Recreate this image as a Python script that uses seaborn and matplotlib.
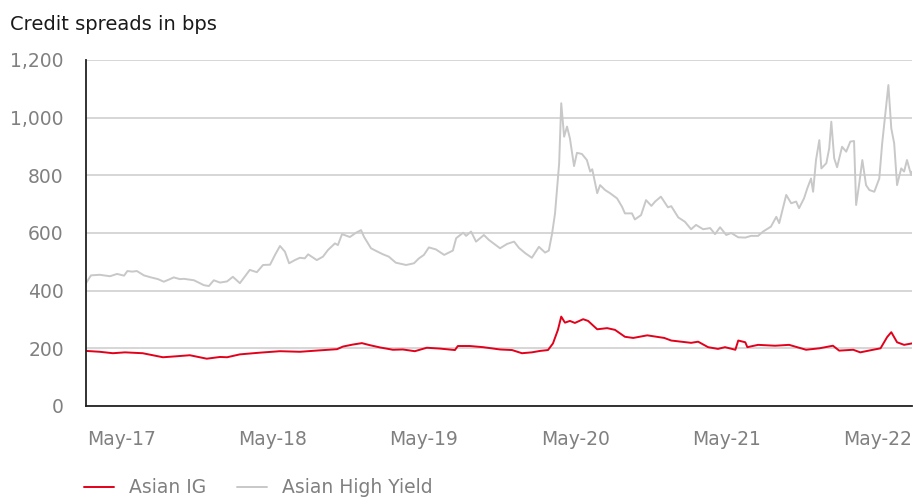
import numpy as np
import pandas as pd
import matplotlib
matplotlib.use('Agg')
import matplotlib.pyplot as plt
import matplotlib.dates as mdates
import seaborn as sns

# Asian High Yield spread (bps)
hy_dates = ['2017-02-03', '2017-02-15', '2017-03-08', '2017-04-02', '2017-04-19', '2017-05-06',
            '2017-05-14', '2017-05-26', '2017-06-06', '2017-06-23', '2017-07-10', '2017-07-27',
            '2017-08-10', '2017-08-25', '2017-09-03', '2017-09-18', '2017-09-28', '2017-10-22',
            '2017-11-15', '2017-11-27', '2017-12-09', '2017-12-24', '2018-01-10', '2018-01-24',
            '2018-02-10', '2018-03-06', '2018-03-23', '2018-04-07', '2018-04-24', '2018-05-06',
            '2018-05-18', '2018-05-30', '2018-06-09', '2018-06-23', '2018-07-05', '2018-07-17',
            '2018-07-25', '2018-08-15', '2018-08-30', '2018-09-11', '2018-09-28', '2018-10-05',
            '2018-10-15', '2018-11-03', '2018-11-18', '2018-11-30', '2018-12-07', '2018-12-24',
            '2019-01-05', '2019-01-22', '2019-02-05', '2019-02-22', '2019-03-19', '2019-04-07',
            '2019-04-19', '2019-05-01', '2019-05-13', '2019-05-30', '2019-06-19', '2019-07-10',
            '2019-07-18', '2019-08-04', '2019-08-11', '2019-08-23', '2019-09-04', '2019-09-23',
            '2019-10-05', '2019-10-22', '2019-11-01', '2019-11-18', '2019-12-05', '2019-12-17',
            '2020-01-01', '2020-01-17', '2020-02-03', '2020-02-18', '2020-02-27', '2020-03-06',
            '2020-03-13', '2020-03-23', '2020-03-28', '2020-04-04', '2020-04-11', '2020-04-18',
            '2020-04-28', '2020-05-05', '2020-05-17', '2020-05-29', '2020-06-06', '2020-06-11',
            '2020-06-23', '2020-06-30', '2020-07-12', '2020-07-24', '2020-08-10', '2020-08-22',
            '2020-08-29', '2020-09-15', '2020-09-22', '2020-10-07', '2020-10-19', '2020-11-01',
            '2020-11-10', '2020-11-24', '2020-12-11', '2020-12-19', '2021-01-05', '2021-01-21',
            '2021-02-05', '2021-02-17', '2021-03-06', '2021-03-23', '2021-04-04', '2021-04-16',
            '2021-05-01', '2021-05-13', '2021-05-30', '2021-06-16', '2021-06-30', '2021-07-17',
            '2021-07-29', '2021-08-10', '2021-08-17', '2021-08-30', '2021-09-06', '2021-09-23',
            '2021-10-05', '2021-10-17', '2021-10-24', '2021-11-05', '2021-11-13', '2021-11-22',
            '2021-11-27', '2021-12-04', '2021-12-12', '2021-12-17', '2021-12-29', '2022-01-05',
            '2022-01-10', '2022-01-17', '2022-01-24', '2022-02-05', '2022-02-15', '2022-02-25',
            '2022-03-06', '2022-03-11', '2022-03-18', '2022-03-26', '2022-04-04', '2022-04-12',
            '2022-04-24', '2022-05-06', '2022-05-13', '2022-05-23', '2022-05-28', '2022-06-04',
            '2022-06-11', '2022-06-18', '2022-06-28', '2022-07-05', '2022-07-12', '2022-07-22',
            '2022-07-24']
hy_values = [426, 453, 455, 450, 458, 452,
             468, 466, 468, 453, 446, 440,
             431, 440, 446, 440, 441, 436,
             419, 416, 436, 428, 432, 448,
             426, 472, 464, 489, 490, 524,
             555, 535, 495, 506, 514, 512,
             526, 506, 518, 541, 564, 558,
             596, 586, 601, 610, 587, 547,
             538, 526, 518, 497, 489, 495,
             512, 524, 550, 543, 524, 539,
             582, 601, 590, 605, 570, 593,
             576, 558, 547, 562, 570, 548,
             530, 514, 552, 532, 539, 599,
             668, 842, 1050, 934, 969, 928,
             832, 878, 874, 853, 813, 821,
             738, 766, 749, 738, 720, 691,
             668, 668, 647, 662, 714, 694,
             709, 726, 689, 693, 654, 639,
             613, 628, 613, 617, 596, 620,
             593, 600, 585, 584, 590, 590,
             605, 616, 622, 656, 634, 732,
             703, 709, 686, 720, 755, 789,
             743, 853, 922, 824, 842, 894,
             986, 859, 828, 899, 882, 917,
             919, 697, 766, 853, 766, 749,
             743, 789, 911, 1044, 1113, 963,
             911, 766, 824, 813, 853, 801,
             813]

# Asian IG spread (bps)
ig_dates = ['2017-02-03', '2017-03-08', '2017-04-09', '2017-05-08', '2017-06-20', '2017-08-08',
            '2017-09-06', '2017-10-12', '2017-11-22', '2017-12-24', '2018-01-10', '2018-02-10',
            '2018-03-31', '2018-05-18', '2018-07-05', '2018-08-23', '2018-10-03', '2018-10-17',
            '2018-11-10', '2018-12-02', '2018-12-21', '2019-01-15', '2019-02-15', '2019-03-11',
            '2019-04-09', '2019-05-08', '2019-06-09', '2019-07-15', '2019-07-22', '2019-08-20',
            '2019-09-21', '2019-11-01', '2019-11-30', '2019-12-24', '2020-01-17', '2020-02-06',
            '2020-02-25', '2020-03-08', '2020-03-20', '2020-03-28', '2020-04-06', '2020-04-18',
            '2020-04-30', '2020-05-20', '2020-06-01', '2020-06-23', '2020-07-17', '2020-08-05',
            '2020-08-29', '2020-09-18', '2020-10-22', '2020-12-02', '2020-12-19', '2021-02-05',
            '2021-02-22', '2021-03-18', '2021-04-11', '2021-04-28', '2021-05-23', '2021-05-30',
            '2021-06-16', '2021-06-21', '2021-07-17', '2021-08-27', '2021-09-30', '2021-11-10',
            '2021-12-12', '2022-01-14', '2022-01-29', '2022-03-04', '2022-03-21', '2022-04-21',
            '2022-05-09', '2022-05-25', '2022-06-04', '2022-06-18', '2022-07-05', '2022-07-24']
ig_values = [191, 188, 183, 186, 183, 169,
             172, 176, 164, 170, 169, 179,
             185, 190, 188, 193, 197, 206,
             213, 218, 211, 203, 195, 196,
             190, 202, 199, 194, 208, 208,
             204, 196, 194, 183, 186, 191,
             194, 217, 264, 310, 289, 295,
             288, 301, 295, 266, 270, 264,
             240, 236, 245, 236, 227, 219,
             223, 204, 198, 204, 195, 227,
             221, 204, 212, 209, 212, 195,
             200, 209, 192, 195, 186, 195,
             200, 239, 256, 221, 212, 217]

series_names = ['Asian IG', 'Asian High Yield']
series_colors = ['#e3001b', '#c8c8c8']
year_ticks = ['2017-05-01', '2018-05-01', '2019-05-01', '2020-05-01', '2021-05-01', '2022-05-01']

df = pd.concat([
    pd.DataFrame({'date': pd.to_datetime(ig_dates), 'bps': ig_values, 'series': series_names[0]}),
    pd.DataFrame({'date': pd.to_datetime(hy_dates), 'bps': hy_values, 'series': series_names[1]}),
], ignore_index=True)

sns.set_style('white')
plt.rcParams['font.family'] = ['DejaVu Sans']

fig = plt.figure(figsize=(9.17, 4.99), dpi=100)
ax = fig.add_axes([0.0938, 0.1864, 0.9007, 0.6934])

sns.lineplot(data=df, x='date', y='bps', hue='series', hue_order=series_names,
             palette=series_colors, linewidth=1.4, estimator=None, legend=False, ax=ax)

ax.set_ylim(0, 1200)
ax.set_yticks(range(0, 1201, 200))
ax.yaxis.set_major_formatter(matplotlib.ticker.FuncFormatter(lambda v, p: f'{int(v):,}'))
ax.set_xlim(pd.Timestamp(hy_dates[0]), pd.Timestamp(hy_dates[-1]))
ax.set_xticks(pd.to_datetime(year_ticks))
ax.xaxis.set_major_formatter(mdates.DateFormatter('%b-%y'))

ax.grid(axis='y', color='#cccccc', linewidth=1.1)
ax.grid(axis='x', visible=False)
ax.set_axisbelow(True)
for s in ['top', 'right']:
    ax.spines[s].set_visible(False)
for s in ['left', 'bottom']:
    ax.spines[s].set_color('#222222')
    ax.spines[s].set_linewidth(1.3)

ax.tick_params(axis='y', length=10, width=1.3, color='#222222', pad=6,
               labelsize=13.5, labelcolor='#808080')
ax.tick_params(axis='x', length=0, pad=17, labelsize=13.5, labelcolor='#808080')
ax.set_xlabel('')
ax.set_ylabel('')

fig.text(10 / 917, 1 - 24 / 499, 'Credit spreads in bps', fontsize=14,
         color='#1a1a1a', ha='left', va='center')

handles = [plt.Line2D([], [], color=c, linewidth=1.4) for c in series_colors]
ax.legend(handles, series_names, loc='center left', bbox_to_anchor=(-0.002, -0.237),
          ncol=2, frameon=False, handlelength=1.6, handletextpad=0.8,
          columnspacing=1.6, borderpad=0, borderaxespad=0,
          fontsize=13.5, labelcolor='#808080')

fig.savefig('out.png', dpi=100)
